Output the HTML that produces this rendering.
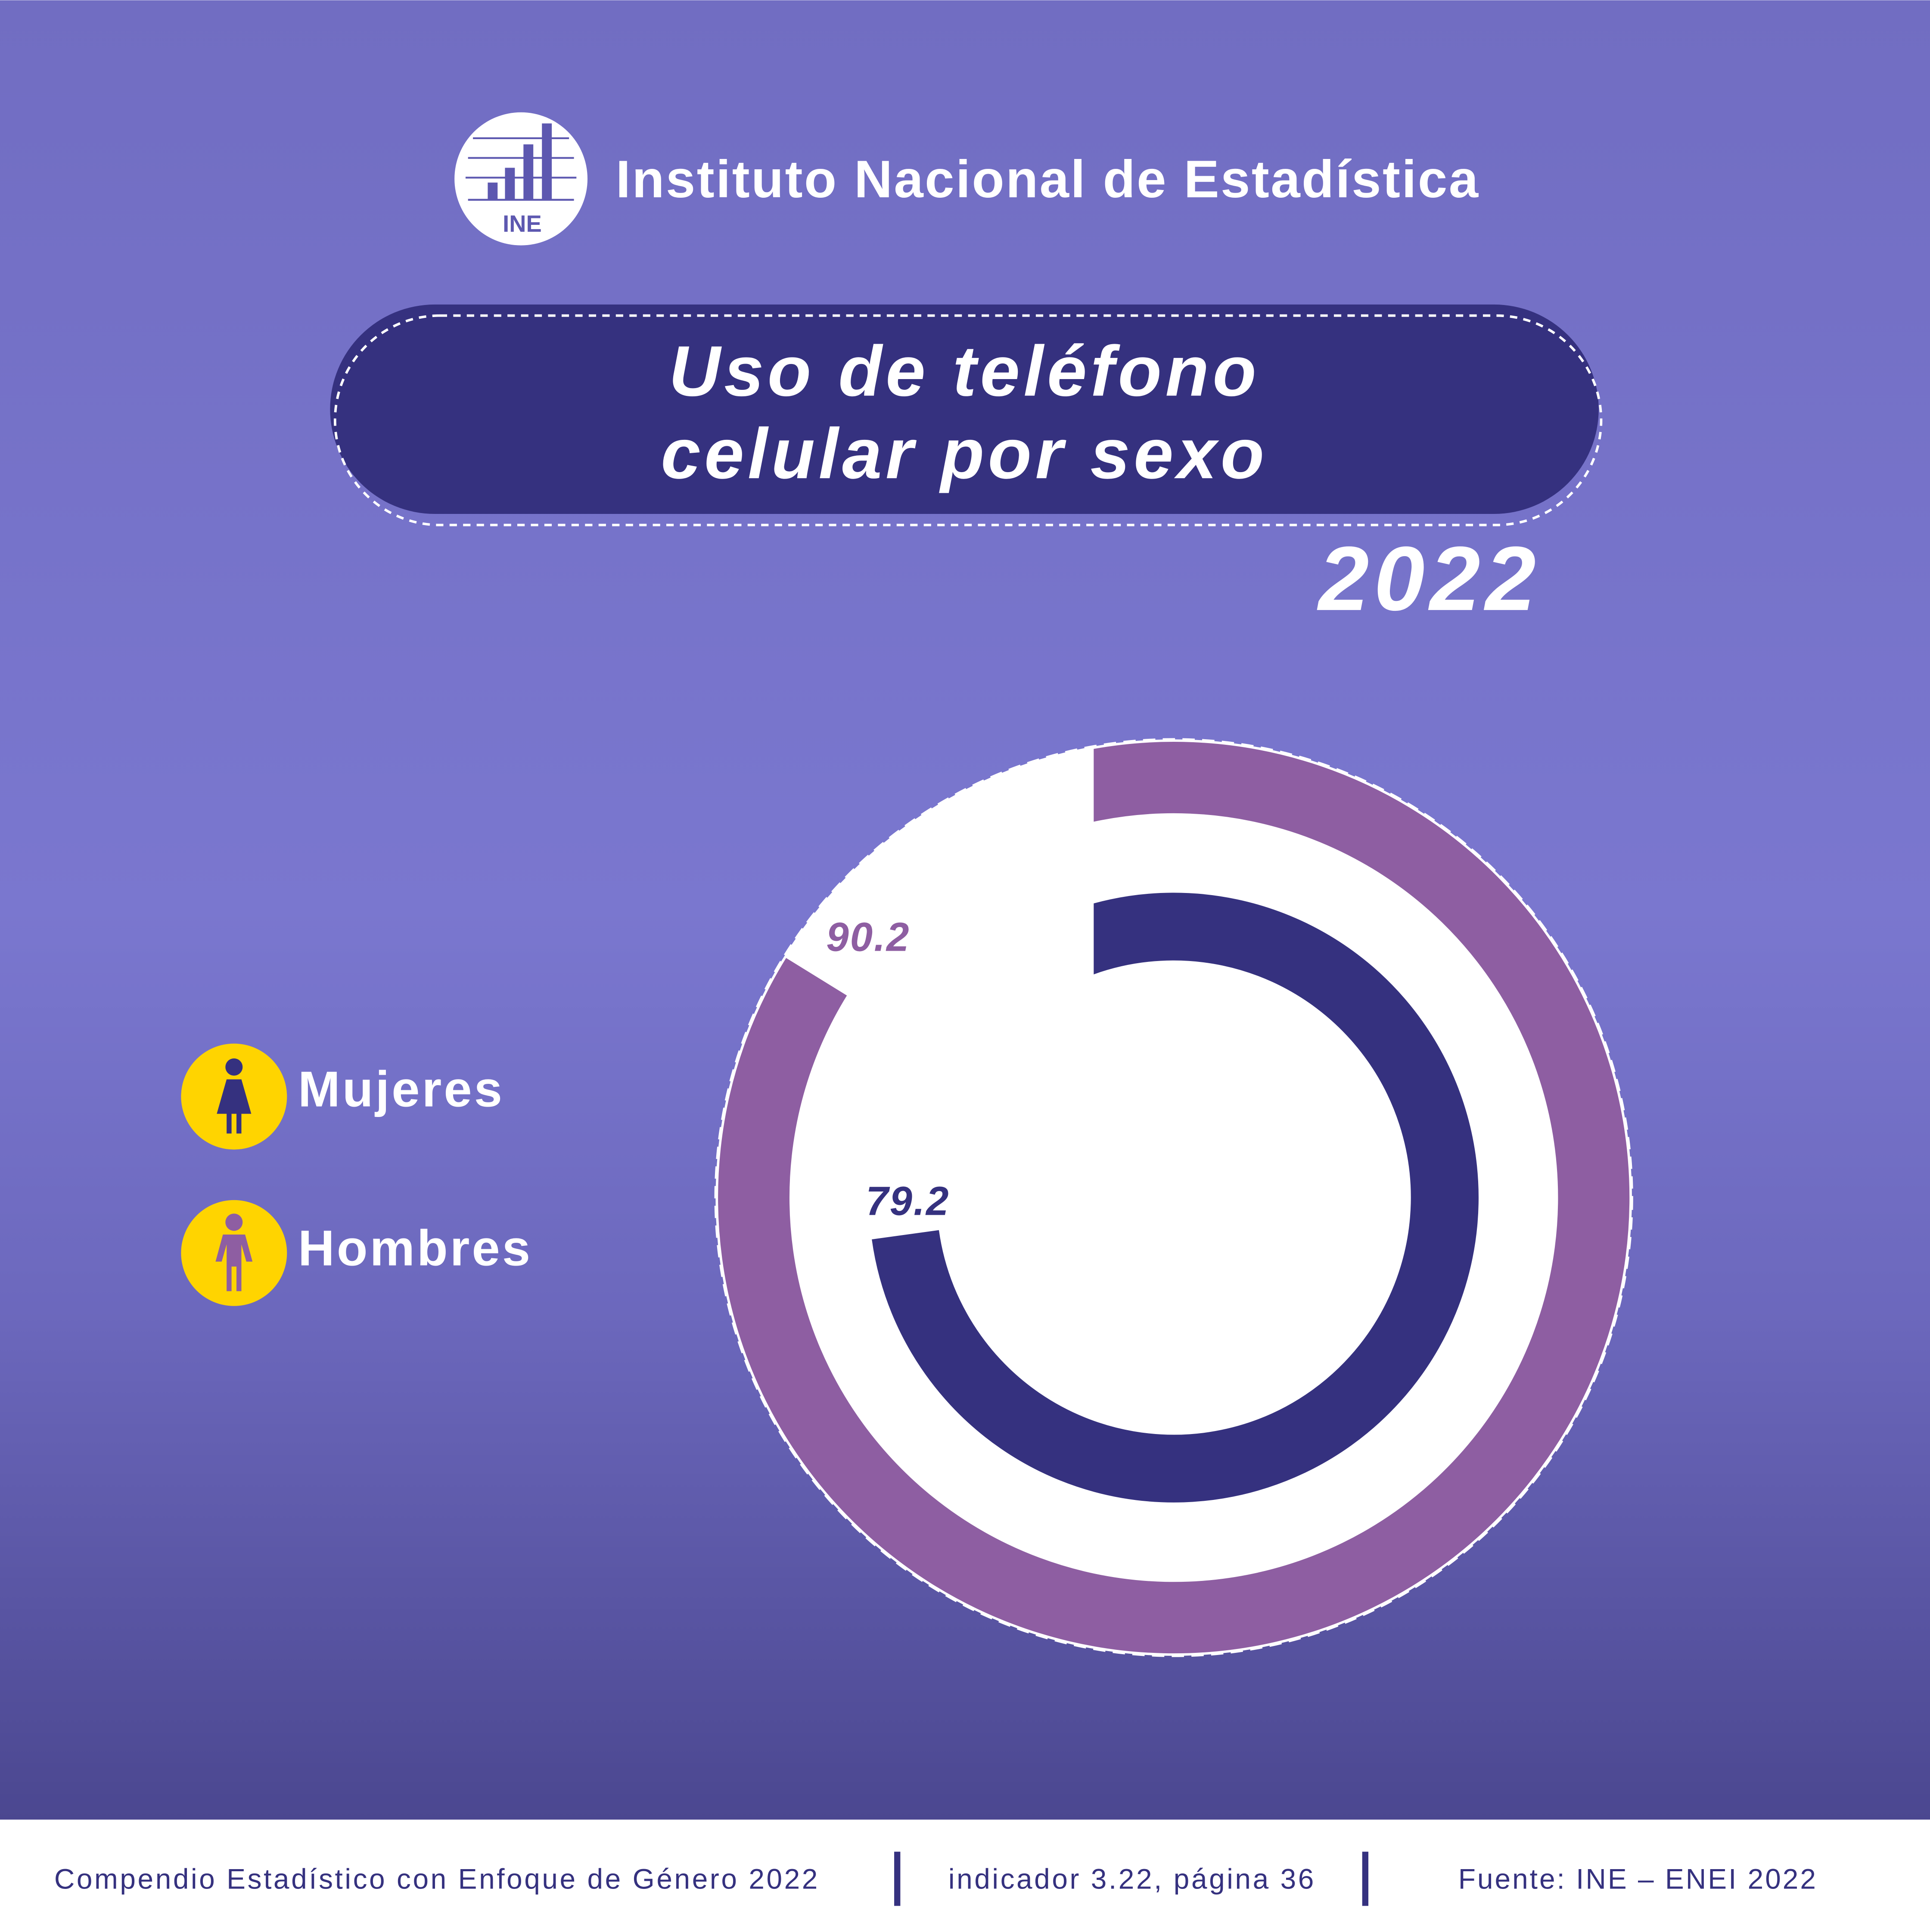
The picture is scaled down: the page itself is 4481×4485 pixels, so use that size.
<!DOCTYPE html>
<html><head><meta charset="utf-8"><style>
html,body{margin:0;padding:0;background:#fff}
svg{display:block}
text{font-family:"Liberation Sans",sans-serif}
</style></head><body>
<svg id="chart" width="4481" height="4485" viewBox="0 0 1567 1568" xmlns="http://www.w3.org/2000/svg">
<defs>
<linearGradient id="bg" x1="0" y1="0" x2="0" y2="1">
<stop offset="0" stop-color="#716dc2"/>
<stop offset="0.5" stop-color="#7a77cf"/>
<stop offset="0.72" stop-color="#6c68bd"/>
<stop offset="1" stop-color="#4b4790"/>
</linearGradient>
<clipPath id="clipOuter"><path d="M0 0H1567V1568H0V705H888V0Z"/></clipPath>
<clipPath id="clipInner"><path d="M0 0H1567V1568H0V880H888V0Z"/></clipPath>
</defs>
<rect x="0" y="0" width="1567" height="1477" fill="url(#bg)"/>
<g>
<circle cx="423" cy="145" r="54" fill="#fff"/>
<g fill="#5d58b0">
<rect x="396" y="148" width="8" height="14"/><rect x="410" y="136" width="8" height="26"/>
<rect x="425" y="117" width="8" height="45"/><rect x="440" y="100" width="8" height="62"/>
</g>
<g stroke="#5d58b0" stroke-width="1.5"><line x1="384" y1="112" x2="462" y2="112"/><line x1="380" y1="128" x2="466" y2="128"/><line x1="378" y1="144" x2="468" y2="144"/><line x1="380" y1="162" x2="466" y2="162"/></g>
<text x="424" y="188" text-anchor="middle" font-size="19" font-weight="bold" fill="#5d58b0">INE</text>
</g>
<text x="500" y="160" font-size="43" font-weight="bold" letter-spacing="1.2" fill="#fff">Instituto Nacional de Estadística</text>
<rect x="268" y="247" width="1030" height="170" rx="85" fill="#35317f"/>
<rect x="272" y="256" width="1028" height="170" rx="85" fill="none" stroke="#fff" stroke-width="2" stroke-dasharray="6 5"/>
<text x="783" y="321" text-anchor="middle" font-size="58" font-weight="bold" font-style="italic" letter-spacing="3" fill="#fff">Uso de teléfono</text>
<text x="783" y="388" text-anchor="middle" font-size="58" font-weight="bold" font-style="italic" letter-spacing="3" fill="#fff">celular por sexo</text>
<text x="1251" y="495" text-anchor="end" font-size="74" font-weight="bold" font-style="italic" letter-spacing="4" fill="#fff">2022</text>
<circle cx="953" cy="972" r="372" fill="#fff" stroke="#fff" stroke-width="2" stroke-dasharray="10 6"/>
<g id="arcs"></g>
<g>
<g>
<circle cx="190" cy="890" r="43" fill="#ffd400"/>
<circle cx="190" cy="866" r="7" fill="#35317f"/>
<path d="M184 876h12l8 28h-8v16h-4v-16h-4v16h-4v-16h-8z" fill="#35317f"/>
<text x="242" y="898" font-size="41" font-weight="bold" letter-spacing="1.8" fill="#fff">Mujeres</text>
</g>
<g>
<circle cx="190" cy="1017" r="43" fill="#ffd400"/>
<circle cx="190" cy="992" r="7" fill="#8e5ea2"/>
<path d="M181 1002h18l6 22h-5l-4-14v38h-4v-20h-4v20h-4v-38l-4 14h-5z" fill="#8e5ea2"/>
<text x="242" y="1027" font-size="41" font-weight="bold" letter-spacing="1.8" fill="#fff">Hombres</text>
</g>
</g>
<rect x="0" y="1477" width="1567" height="91" fill="#fff"/>
<text x="44" y="1533" font-size="23" letter-spacing="1.6" fill="#35317f">Compendio Estadístico con Enfoque de Género 2022</text>
<rect x="726" y="1503" width="5" height="44" fill="#35317f"/>
<text x="770" y="1533" font-size="23" letter-spacing="1.6" fill="#35317f">indicador 3.22, página 36</text>
<rect x="1106" y="1503" width="5" height="44" fill="#35317f"/>
<text x="1184" y="1533" font-size="23" letter-spacing="1.4" fill="#35317f">Fuente:  INE – ENEI 2022</text>
</svg>
<script>
const categories = ["Hombres", "Mujeres"];
const values = [90.2, 79.2];
const colors = ["#8e5ea2", "#35317f"];
const labelColors = ["#8e5ea2", "#35317f"];
const cx = 953, cy = 972;
const radii = [341, 220], widths = [58, 55];
const clips = ["url(#clipOuter)", "url(#clipInner)"];
const labelOffsets = [[42, -21], [2, -16]];
const startDeg = -23;
const ns = "http://www.w3.org/2000/svg";
const g = document.getElementById("arcs");
function pt(r, deg){const a=(deg-90)*Math.PI/180;return [cx+r*Math.cos(a), cy+r*Math.sin(a)];}
values.forEach((v,i)=>{
  const end = startDeg + v/100*360;
  const r = radii[i];
  const [x1,y1]=pt(r,startDeg), [x2,y2]=pt(r,end);
  const large = (end-startDeg)>180?1:0;
  const p=document.createElementNS(ns,"path");
  p.setAttribute("d",`M${x1} ${y1} A${r} ${r} 0 ${large} 1 ${x2} ${y2}`);
  p.setAttribute("fill","none");p.setAttribute("stroke",colors[i]);p.setAttribute("stroke-width",widths[i]);
  p.setAttribute("clip-path",clips[i]);
  
  
  g.appendChild(p);
  const t=document.createElementNS(ns,"text");
  t.setAttribute("x", x2+labelOffsets[i][0]);
  t.setAttribute("y", y2+labelOffsets[i][1]);
  t.setAttribute("text-anchor","middle");
  t.setAttribute("font-size","33");t.setAttribute("font-weight","bold");t.setAttribute("font-style","italic");
  t.setAttribute("letter-spacing","1");
  t.setAttribute("fill",labelColors[i]);
  t.textContent=v.toFixed(1);
  
  
  g.appendChild(t);
});
</script>
</body></html>
